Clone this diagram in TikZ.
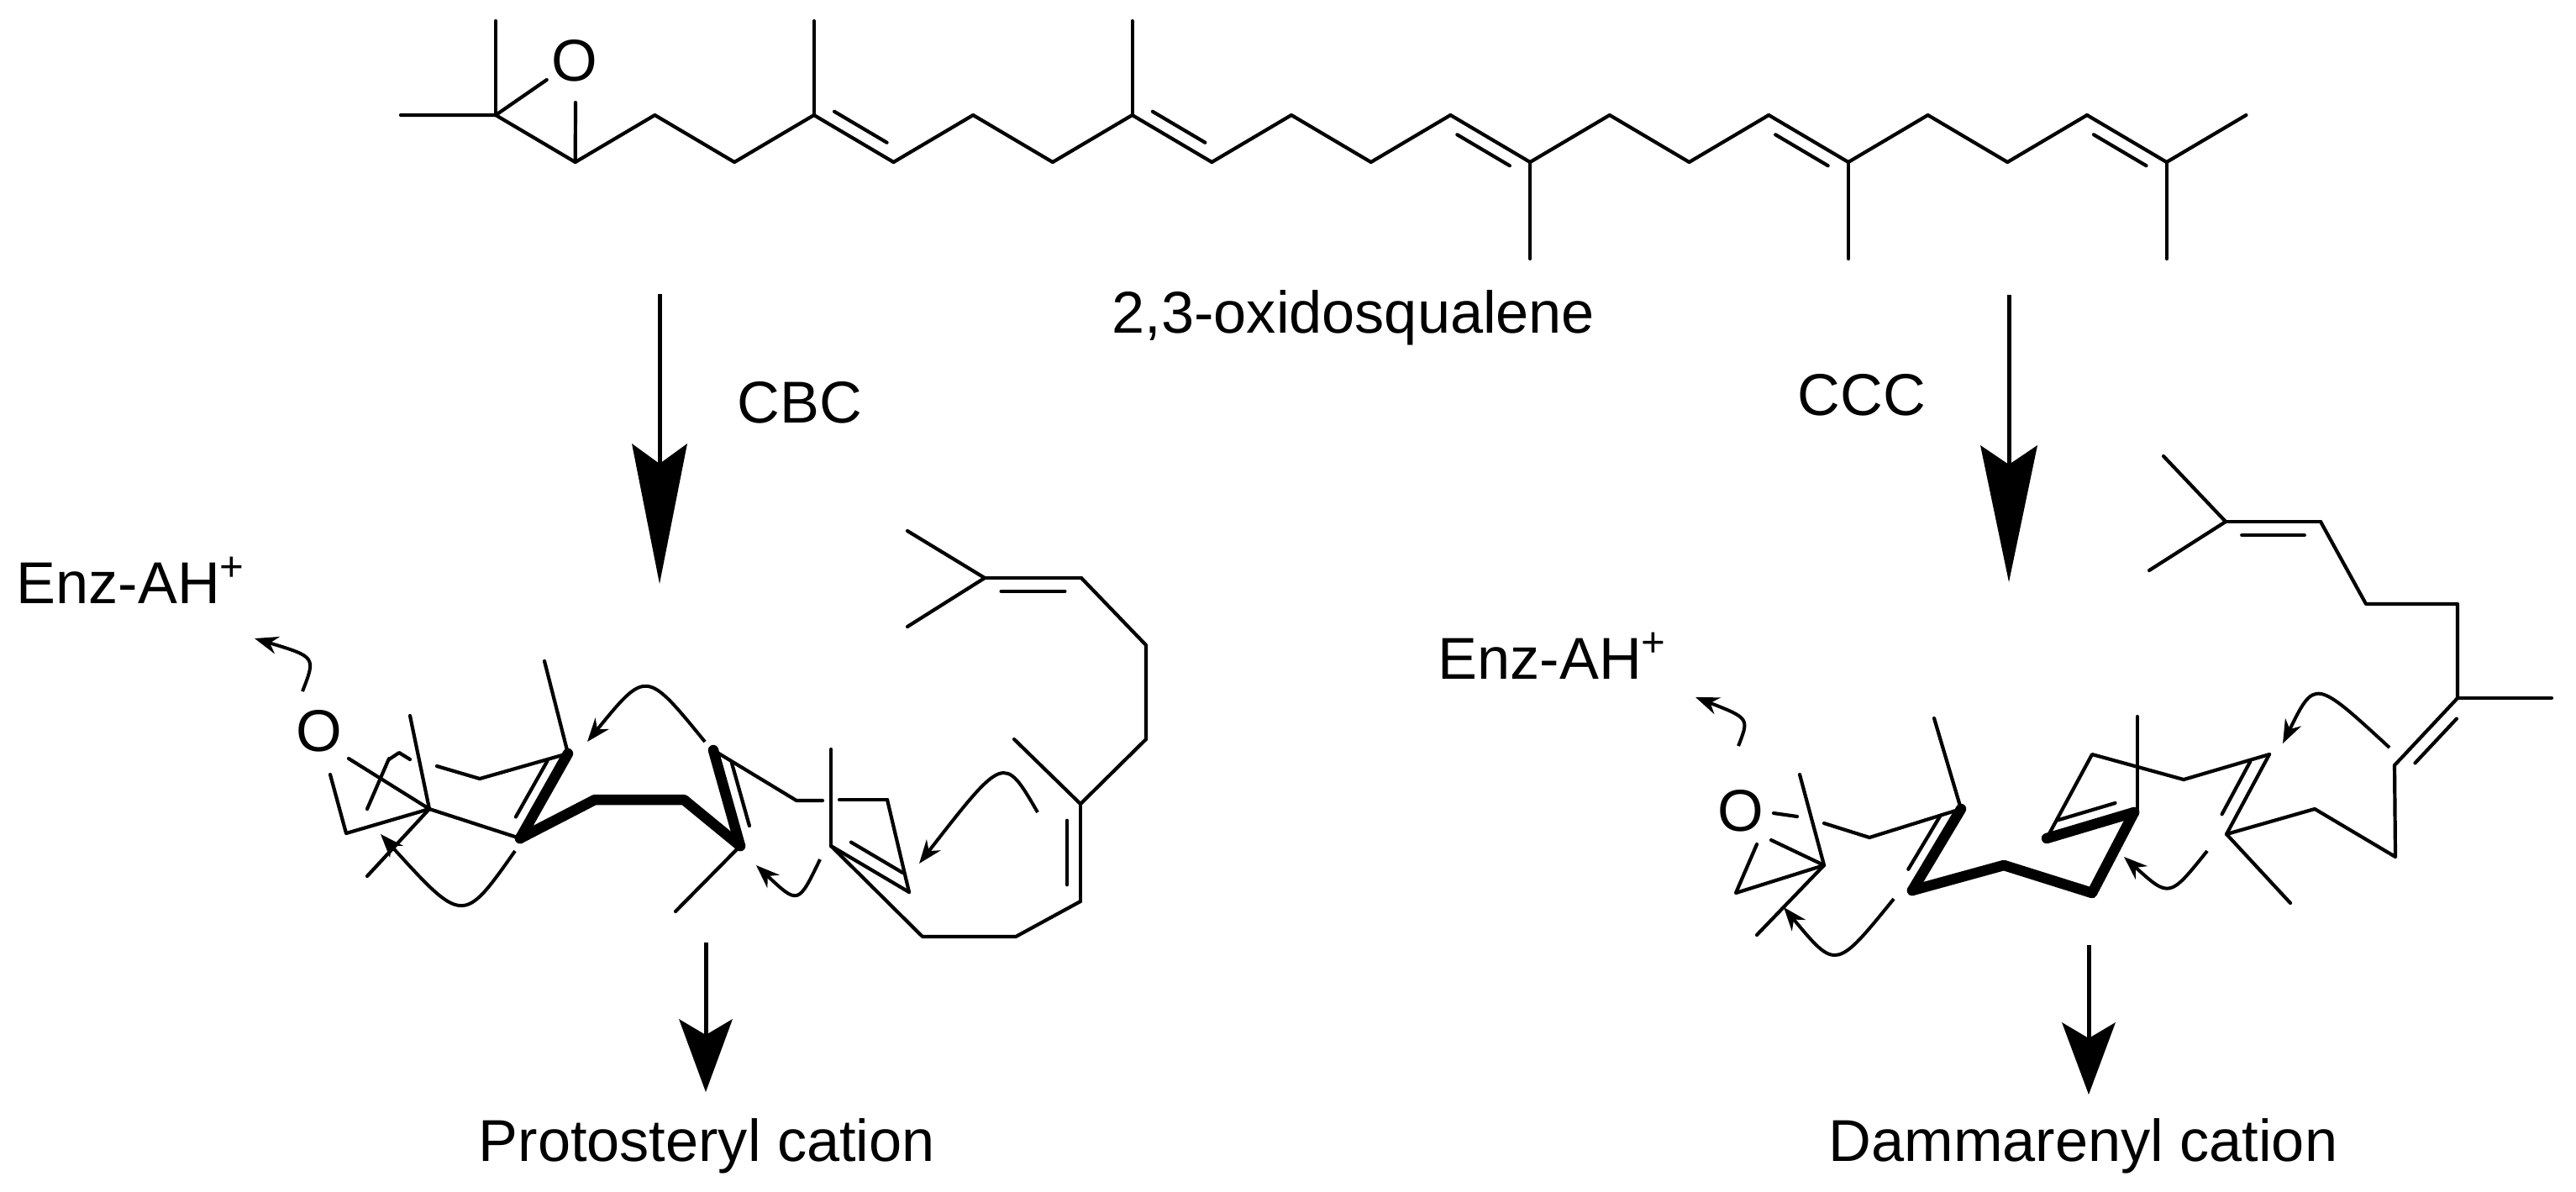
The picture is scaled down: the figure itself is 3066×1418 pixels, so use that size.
\documentclass[tikz,border=0pt]{standalone}
\usepackage{fontspec}
\setmainfont{Liberation Sans}
\usetikzlibrary{calc,arrows.meta}
\newcommand\dbond[4][bond]{\draw[#1] (#2)--(#3); \draw[bond] ($(#2)!.17!(#3)!#4!90:(#3)$) -- ($(#3)!.17!(#2)!#4!-90:(#2)$);}
\begin{document}
\begin{tikzpicture}[x=0.1mm,y=-0.1mm,
  bond/.style={line width=0.42mm,line cap=round,line join=round},
  boldb/.style={line width=1.25mm,line cap=round,line join=round},
  push/.style={line width=0.4mm,-{Stealth[length=2.8mm,width=2.1mm]}},
  lab/.style={font=\fontsize{20}{24}\selectfont,inner sep=0pt,anchor=base west},
  atom/.style={font=\fontsize{20}{24}\selectfont,inner sep=1.5pt},
  shaft/.style={line width=0.5mm},
  headfill/.style={fill=black}]
\useasboundingbox (0,0) rectangle (3066,1418);
% ---------- 2,3-oxidosqualene ----------
\foreach \i in {0,...,22}{
  \pgfmathsetmacro\xx{590+94.7*\i}
  \pgfmathsetmacro\yy{mod(\i,2)==0 ? 137 : 193}
  \coordinate (c\i) at (\xx,\yy);}
\node[atom] (Otop) at (684,72) {O};
\draw[bond] (477,137) -- (c0) -- (c1) -- (c2) -- (c3) -- (c4);
\draw[bond] (c5) -- (c6) -- (c7) -- (c8);
\draw[bond] (c9) -- (c10) -- (c11) -- (c12);
\draw[bond] (c13) -- (c14) -- (c15) -- (c16);
\draw[bond] (c17) -- (c18) -- (c19) -- (c20);
\draw[bond] (c21) -- (c22);
\dbond{c4}{c5}{1.6mm}
\dbond{c8}{c9}{1.6mm}
\dbond{c12}{c13}{-1.6mm}
\dbond{c16}{c17}{-1.6mm}
\dbond{c20}{c21}{-1.6mm}
\draw[bond] (c0) -- (590,25);
\draw[bond] (c4) -- ($(c4)+(0,-112)$);
\draw[bond] (c8) -- ($(c8)+(0,-112)$);
\draw[bond] (c13) -- ($(c13)+(0,115)$);
\draw[bond] (c17) -- ($(c17)+(0,115)$);
\draw[bond] (c21) -- ($(c21)+(0,115)$);
\draw[bond] (c0) -- (Otop);
\draw[bond] (c1) -- (685,122);
\node[lab] (sq) at (1323,396) {2,3-oxidosqualene};
% ---------- main arrows ----------
\coordinate (a1s) at (785,350); \coordinate (a1t) at (785,695);
\draw[shaft] (a1s) -- (785,560);
\fill[headfill] (a1t) -- (752,528) -- (785,552) -- (818,528) -- cycle;
\node[lab] (cbc) at (877,503) {CBC};
\coordinate (a2s) at (2391,351); \coordinate (a2t) at (2391,693);
\draw[shaft] (a2s) -- (2391,555);
\fill[headfill] (a2t) -- (2357,530) -- (2391,553) -- (2425,530) -- cycle;
\node[lab] (ccc) at (2139,494) {CCC};
\coordinate (a3s) at (840,1122); \coordinate (a3t) at (840,1300);
\draw[shaft] (a3s) -- (840,1235);
\fill[headfill] (a3t) -- (808,1213) -- (840,1232) -- (872,1213) -- cycle;
\node[lab] (proto) at (569,1382) {Protosteryl cation};
\coordinate (a4s) at (2486,1125); \coordinate (a4t) at (2486,1303);
\draw[shaft] (a4s) -- (2486,1238);
\fill[headfill] (a4t) -- (2454,1217) -- (2486,1236) -- (2518,1217) -- cycle;
\node[lab] (damm) at (2176,1382) {Dammarenyl cation};
\node[lab] (enzL) at (19,718) {Enz-AH\textsuperscript{+}};
\node[lab] (enzR) at (1711,808) {Enz-AH\textsuperscript{+}};
% ---------- left (CBC) conformation ----------
\node[atom] (OL) at (380,870) {O};
\coordinate (a2) at (511,963); \coordinate (a3) at (412,992);
\draw[bond] (415,903) -- (a2) -- (a3) -- (393,922);
\draw[bond] (437,963) -- (463,903);
\draw[bond] (463,904) -- (475,896) -- (488,904);
\draw[bond] (a2) -- (488,852);
\draw[bond] (a2) -- (437,1043);
\coordinate (b1) at (619,998);
\draw[bond] (a2) -- (b1);
\coordinate (r1) at (520,912); \coordinate (r2) at (571,927); \coordinate (r3) at (676,897);
\draw[bond] (r1) -- (r2) -- (r3);
\draw[bond] (r3) -- (648,787);
\dbond[boldb]{r3}{b1}{-1.7mm}
\coordinate (b4) at (881,1007); \coordinate (b5) at (849,893);
\draw[boldb] (b1) -- (708,952) -- (814,952) -- (b4);
\dbond[boldb]{b5}{b4}{1.7mm}
\draw[bond] (b5) -- (948,953) -- (979,953);
\coordinate (b7) at (1056,952); \coordinate (b8) at (989,1007); \coordinate (b9) at (1082,1062);
\draw[bond] (999,952) -- (b7);
\draw[bond] (989,892) -- (b8);
\draw[bond] (b4) -- (804,1085);
\dbond{b8}{b9}{1.6mm}
\draw[bond] (b7) -- (b9);
\coordinate (g1) at (1098,1115); \coordinate (g2) at (1209,1115); \coordinate (g3) at (1286,1073);
\coordinate (g4) at (1286,957); \coordinate (g5) at (1364,880); \coordinate (g6) at (1364,768);
\coordinate (d1) at (1287,688); \coordinate (d2) at (1172,688);
\draw[bond] (b8) -- (g1) -- (g2) -- (g3);
\dbond{g3}{g4}{1.6mm}
\draw[bond] (g4) -- (g5) -- (g6) -- (d1);
\draw[bond] (g4) -- (1207,880);
\dbond{d1}{d2}{1.6mm}
\draw[bond] (d2) -- (1080,632);
\draw[bond] (d2) -- (1080,746);
% electron pushing (left)
\draw[push] (360,823) .. controls (376,782) .. (303,760);
\draw[push] (839,883) .. controls (769,797) .. (699,883);
\draw[push] (613,1013) .. controls (551,1101) .. (453,993);
\draw[push] (976,1023) .. controls (950,1077) .. (900,1030);
\draw[push] (1235,967) .. controls (1195,898) .. (1094,1028);
% ---------- right (CCC) conformation ----------
\node[atom] (OR) at (2072,965) {O};
\coordinate (e1) at (2171,1030);
\draw[bond] (2111,968) -- (2139,972);
\draw[bond] (2142,922) -- (e1);
\draw[bond] (2091,1005) -- (2066,1063) -- (e1) -- (2108,1000);
\draw[bond] (e1) -- (2091,1113);
\coordinate (e3) at (2334,963); \coordinate (e4) at (2276,1060);
\draw[bond] (2171,980) -- (2225,997) -- (e3);
\draw[bond] (e3) -- (2302,855);
\dbond[boldb]{e3}{e4}{-1.7mm}
\coordinate (e7) at (2540,967); \coordinate (e8) at (2436,998);
\draw[boldb] (e4) -- (2385,1030) -- (2490,1063) -- (e7);
\dbond[boldb]{e7}{e8}{-1.7mm}
\coordinate (e11) at (2701,898); \coordinate (e12) at (2650,993);
\draw[bond] (e8) -- (2490,898) -- (2599,928) -- (e11);
\draw[bond] (2544,853) -- (2544,967);
\dbond{e11}{e12}{-1.6mm}
\coordinate (f1) at (2850,911); \coordinate (f2) at (2925,831);
\draw[bond] (e12) -- (2755,963) -- (2851,1020) -- (f1);
\draw[bond] (e12) -- (2726,1075);
\dbond{f1}{f2}{-1.6mm}
\draw[bond] (f2) -- (3037,831);
\coordinate (f5) at (2762,621); \coordinate (f6) at (2649,621);
\draw[bond] (f2) -- (2925,719) -- (2816,719) -- (f5);
\dbond{f5}{f6}{1.6mm}
\draw[bond] (f6) -- (2575,543);
\draw[bond] (f6) -- (2558,679);
% electron pushing (right)
\draw[push] (2069,888) .. controls (2082,855) .. (2018,830);
\draw[push] (2254,1070) .. controls (2185,1155) .. (2123,1080);
\draw[push] (2627,1013) .. controls (2582,1069) .. (2528,1020);
\draw[push] (2844,890) .. controls (2755,808) .. (2717,885);
\end{tikzpicture}
\end{document}
